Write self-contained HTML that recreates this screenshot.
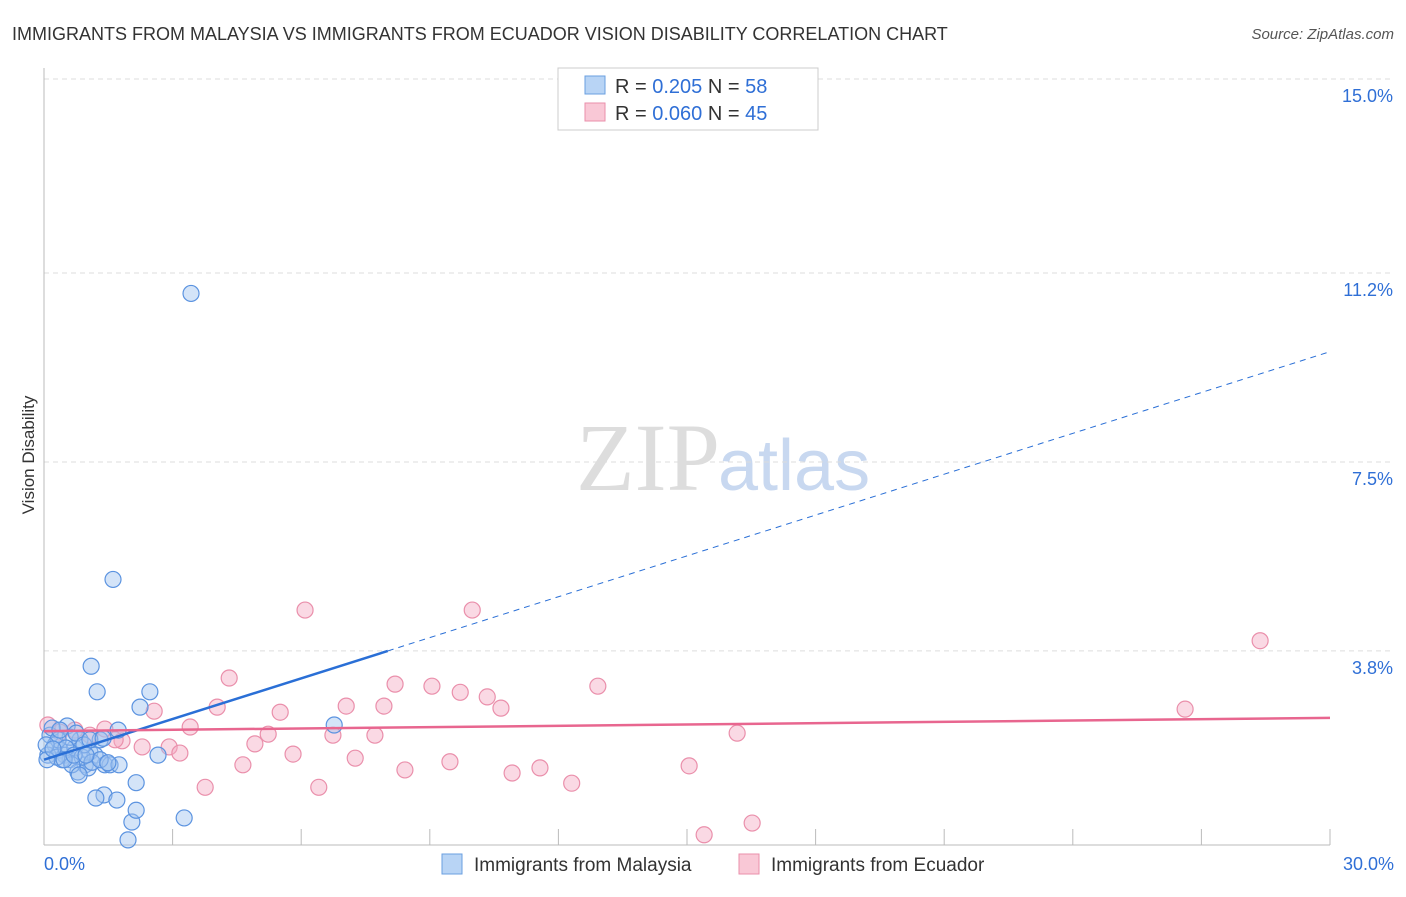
<!DOCTYPE html>
<html><head><meta charset="utf-8"><style>
body{margin:0;background:#fff;font-family:"Liberation Sans",sans-serif}
</style></head><body>
<svg width="1406" height="892" xmlns="http://www.w3.org/2000/svg" font-family="Liberation Sans, sans-serif">
<text x="12" y="40" font-size="18" fill="#333">IMMIGRANTS FROM MALAYSIA VS IMMIGRANTS FROM ECUADOR VISION DISABILITY CORRELATION CHART</text>
<text x="1394" y="39" font-size="15" fill="#555" text-anchor="end" font-style="italic">Source: ZipAtlas.com</text>
<text x="34" y="455" font-size="17" fill="#333" transform="rotate(-90 34 455)" text-anchor="middle">Vision Disability</text>
<text x="720" y="490" font-size="96" fill="#ddd" text-anchor="end" font-family="Liberation Serif, serif">ZIP</text>
<text x="718" y="490" font-size="72" fill="#c8d8f0">atlas</text>
<g id="grid"></g><g id="axes"></g><g id="pts"></g><g id="lines"></g>
<g>
<rect x="558" y="68" width="260" height="62" fill="#fff" stroke="#ccc"/>
<rect x="585" y="76" width="20" height="18" fill="#b8d4f5" stroke="#6a9fe0"/>
<rect x="585" y="103" width="20" height="18" fill="#f9c8d6" stroke="#ea8fab"/>
<text x="615" y="93" font-size="20" fill="#333">R = <tspan fill="#2f6fd6">0.205</tspan>   N = <tspan fill="#2f6fd6">58</tspan></text>
<text x="615" y="120" font-size="20" fill="#333">R = <tspan fill="#2f6fd6">0.060</tspan>   N = <tspan fill="#2f6fd6">45</tspan></text>
</g>
<g>
<rect x="442" y="854" width="20" height="20" fill="#b8d4f5" stroke="#6a9fe0"/>
<text x="474" y="871" font-size="19" fill="#333">Immigrants from Malaysia</text>
<rect x="739" y="854" width="20" height="20" fill="#f9c8d6" stroke="#ea8fab"/>
<text x="771" y="871" font-size="19" fill="#333">Immigrants from Ecuador</text>
</g>
</svg>
<script>
const yTicks=[15.0,11.2,7.5,3.8];
const yTickLabels=["15.0%","11.2%","7.5%","3.8%"];
const xTickLabels=["0.0%","30.0%"];
const malaysiaX=[3.43,1.61,1.1,1.24,2.47,2.24,6.77,0.54,1.73,2.66,2.15,3.27,2.05,2.15,1.96,1.4,1.70,1.21,0.14,0.26,0.37,0.49,0.61,0.72,0.84,0.96,1.07,1.19,1.31,1.42,1.54,1.75,0.79,1.03,0.42,0.09,0.19,0.61,0.75,0.33,0.89,1.12,1.31,0.65,0.30,0.05,0.51,0.93,1.49,0.47,0.07,0.21,0.70,1.07,1.38,0.37,0.98,0.82];
const malaysiaY=[10.8,5.2,3.5,3.0,3.0,2.7,2.35,2.33,2.25,1.76,1.22,0.53,0.45,0.68,0.1,0.98,0.88,0.92,2.15,1.96,1.86,1.76,1.67,1.9,2.06,1.57,1.82,1.76,2.06,1.57,1.57,1.57,1.43,1.51,1.67,1.76,2.29,2.11,2.19,2.06,1.72,1.62,1.67,1.57,1.72,1.96,1.9,1.96,1.61,1.67,1.67,1.88,1.76,2.06,2.09,2.25,1.76,1.37];
const ecuadorX=[6.09,9.99,28.37,4.32,8.19,9.05,9.71,12.92,10.34,7.05,7.93,10.66,4.04,2.57,5.51,26.62,3.41,1.42,5.23,6.74,7.72,16.17,1.82,2.29,2.92,3.17,4.92,5.81,7.26,9.47,4.64,8.42,11.57,10.92,15.05,3.76,6.41,12.31,15.4,16.52,0.09,0.37,0.72,1.07,1.66];
const ecuadorY=[4.6,4.6,4.0,3.27,3.15,3.11,2.99,3.11,2.9,2.72,2.72,2.68,2.7,2.62,2.6,2.66,2.31,2.27,2.17,2.15,2.15,2.19,2.04,1.92,1.92,1.8,1.98,1.78,1.7,1.63,1.57,1.47,1.51,1.41,1.55,1.13,1.13,1.21,0.2,0.43,2.35,2.21,2.25,2.15,2.06];
const blueTrend=[[0,1.67],[8.02,3.8],[30,9.66]];
const pinkTrend=[[0,2.23],[30,2.49]];
const NS="http://www.w3.org/2000/svg";
const sx=v=>44+v/30*1286, sy=v=>845-v*51.07;
function mk(t,a,p){const e=document.createElementNS(NS,t);for(const k in a)e.setAttribute(k,a[k]);document.getElementById(p).appendChild(e);return e;}
yTicks.forEach((t,i)=>{
 const l=mk('line',{x1:44,x2:1394,y1:sy(t),y2:sy(t),stroke:'#ddd','stroke-dasharray':'5,4'},'grid');
 
 
 const tx=mk('text',{x:1393,y:sy(t)+23,'text-anchor':'end','font-size':18,fill:'#2f6fd6'},'grid');
 tx.textContent=yTickLabels[i];
 
 
});
mk('line',{x1:44,x2:44,y1:68,y2:845,stroke:'#bbb'},'axes');
mk('line',{x1:44,x2:1330,y1:845,y2:845,stroke:'#bbb'},'axes');
for(let i=1;i<=10;i++){const t=mk('line',{x1:sx(i*3),x2:sx(i*3),y1:845,y2:829,stroke:'#bbb'},'axes');
 
 }
[[0,44,'start'],[1,1394,'end']].forEach(([i,x,a])=>{const t=mk('text',{x:x,y:870,'font-size':18,fill:'#2f6fd6','text-anchor':a},'axes');t.textContent=xTickLabels[i];
 
 });
ecuadorX.forEach((x,i)=>{const c=mk('circle',{cx:sx(x),cy:sy(ecuadorY[i]),r:8,fill:'rgba(244,170,195,0.45)',stroke:'#ea8fab','stroke-width':1.2},'pts');
 
 });
malaysiaX.forEach((x,i)=>{const c=mk('circle',{cx:sx(x),cy:sy(malaysiaY[i]),r:8,fill:'rgba(160,196,240,0.45)',stroke:'#5b93e0','stroke-width':1.2},'pts');
 
 });
const b1=mk('line',{x1:sx(blueTrend[0][0]),y1:sy(blueTrend[0][1]),x2:sx(blueTrend[1][0]),y2:sy(blueTrend[1][1]),stroke:'#2a6fd6','stroke-width':2.5},'lines');


const b2=mk('line',{x1:sx(blueTrend[1][0]),y1:sy(blueTrend[1][1]),x2:sx(blueTrend[2][0]),y2:sy(blueTrend[2][1]),stroke:'#2a6fd6','stroke-width':1,'stroke-dasharray':'6,5'},'lines');


const p1=mk('line',{x1:sx(pinkTrend[0][0]),y1:sy(pinkTrend[0][1]),x2:sx(pinkTrend[1][0]),y2:sy(pinkTrend[1][1]),stroke:'#e8668f','stroke-width':2.5},'lines');


</script>
</body></html>
